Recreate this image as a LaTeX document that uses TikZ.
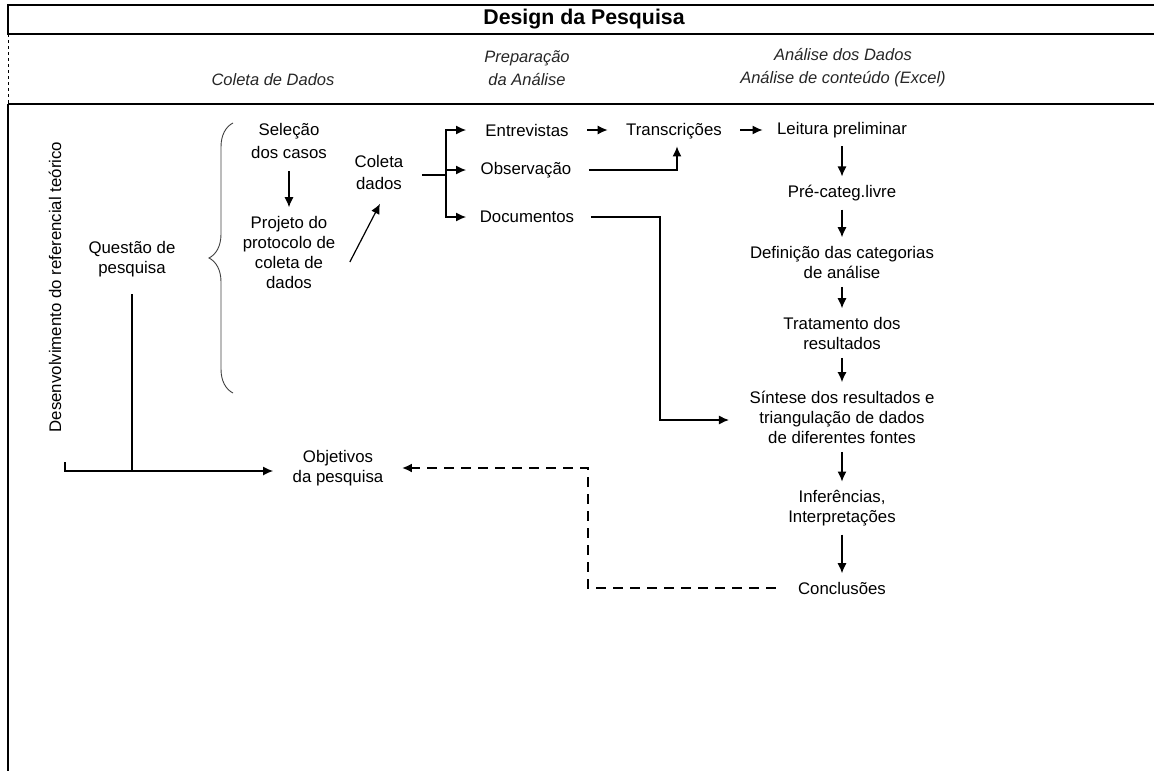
\documentclass[tikz,border=0pt]{standalone}
\usepackage{fontspec}
\setmainfont{Liberation Sans}
\usetikzlibrary{positioning}
\usetikzlibrary{arrows.meta}
\usetikzlibrary{decorations.pathreplacing}

\begin{document}
\begin{tikzpicture}[
            x = 1pt, y = -1pt, % picture units follow the page
            > = {Latex[length=10pt,width=9pt]}, % arrow head style
            line width = 1.2pt,
            node distance = 60pt,
            every node/.style = {font=\fontsize{16.8}{20}\selectfont, align=center, inner sep=2pt}
        ]

        \tikzstyle{head}=[font=\fontsize{16.5}{23}\selectfont\itshape, text=black!85]
        \tikzstyle{flow}=[->, shorten <= 6pt, shorten >= 6pt]
        \tikzstyle{col}=[on grid]

        \useasboundingbox (0,0) rectangle (1154,771);

        % frame
        \draw (1154,5) -- (8,5) -- (8,34) -- (1154,34);
        \draw[dashed, line width=0.8pt] (8,34) -- (8,104);
        \draw[line width=1.5pt] (8,104) -- (580,104);
        \draw[line width=2.2pt] (580,104) -- (1154,104);
        \draw (8,104) -- (8,771);

        % titles
        \node[font=\fontsize{21.3}{24}\selectfont\bfseries] (title) at (584,19) {Design da Pesquisa};
        \node[head] (hC) at (273,80) {Coleta de Dados};
        \node[head] (hP) at (527,68) {Prepara\c{c}\~ao\\da An\'alise};
        \node[head] (hA) at (843,68) {An\'alise dos Dados\\An\'alise de conte\'udo (Excel)};

        % left part
        \node[rotate=90] (dev) at (55,287) {Desenvolvimento do referencial te\'orico};
        \node (Q) at (132,259) {Quest\~ao de\\pesquisa};
        \node (obj) at (338,468) {Objetivos\\da pesquisa};

        \coordinate (devfoot) at (65,462);
        \coordinate (base) at (65,471);

        \draw[->, shorten >= 17pt] (devfoot) -- (base) -- ([yshift=-3pt]obj.west);
        \draw[shorten <= 15pt] (Q.south) -- (Q.south |- base);

        % data collection
        \draw[decorate, decoration={brace, amplitude=24pt}, line width=0.9pt, black!75] (233,393) -- (233,123);

        \node[font=\fontsize{16.8}{23}\selectfont] (S) at (289,141) {Sele\c{c}\~ao\\dos casos};
        \node (P) at (289,252) {Projeto do\\protocolo de\\coleta de\\dados};
        \node[font=\fontsize{16.8}{22}\selectfont] (C) at (379,172) {Coleta\\dados};

        \draw[->, shorten <= 10pt, shorten >= 6pt] (S) -- (P);
        \draw[->] ([shift={(12,10)}]P.east) -- ([shift={(1,12)}]C.south);

        % preparation
        \node (E) at (527,130) {Entrevistas};
        \node (O) at (526,170) {Observa\c{c}\~ao};
        \node (D) at (527,217) {Documentos};
        \node (T) at (674,131) {Transcri\c{c}\~oes};

        \coordinate (fork) at (446,175);
        \coordinate (tips) at (466,0);

        \draw ([xshift=16pt,yshift=-3pt]C.east) -- (fork);
        \draw[->] (fork) |- (E.west -| tips);
        \draw[->] (fork) |- (O.west -| tips);
        \draw[->] (fork) |- (D.west -| tips);

        \draw[->, shorten <= 16pt, shorten >= 16pt] (E) -- (E -| T.west);
        \draw[->, shorten <= 15pt, shorten >= 5pt] (O.east) -| ([xshift=3pt]T.south);

        % analysis column
        \node (L) at (842,130) {Leitura preliminar};
        \node[col] (Pc) [below=63pt of L] {Pr\'e-categ.livre};
        \node[col] (Def) [below=69pt of Pc] {Defini\c{c}\~ao das categorias\\de an\'alise};
        \node[col] (Tr) [below=71pt of Def] {Tratamento dos\\resultados};
        \node[col] (Sy) [below=84pt of Tr] {S\'intese dos resultados e\\triangula\c{c}\~ao de dados\\de diferentes fontes};
        \node[col] (Inf) [below=91pt of Sy] {Infer\^encias,\\Interpreta\c{c}\~oes};
        \node[col] (Con) [below=80pt of Inf] {Conclus\~oes};

        \draw[->, shorten <= 16pt, shorten >= 12pt] (T.east |- L) -- (L);

        \path[flow] (L) edge (Pc);
        \path[flow] (Pc) edge (Def);
        \path[flow] (Def) edge (Tr);
        \path[flow] (Tr) edge (Sy);
        \path[flow] (Sy) edge (Inf);
        \path[flow] (Inf) edge (Con);

        \coordinate (dturn) at (660,217);
        \draw[->, shorten <= 14pt, shorten >= 18pt] (D.east) -- (dturn) |- ([yshift=-3pt]Sy.west);

        % return to the objectives
        \coordinate (ret) at (588,468);
        \draw[->, dash pattern=on 10pt off 7pt, line width=2pt, shorten <= 20pt, shorten >= 16pt] (Con.west) -| (ret) -- (obj.east);

\end{tikzpicture}
\end{document}
